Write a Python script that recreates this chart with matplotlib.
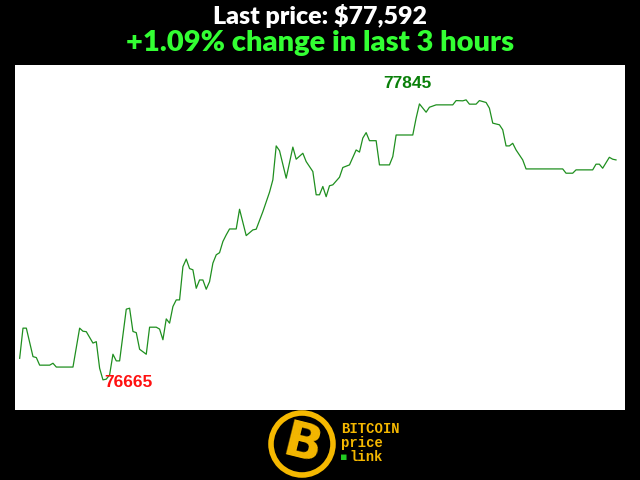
import matplotlib
matplotlib.use("Agg")
import matplotlib.pyplot as plt
from matplotlib.patches import Ellipse

# minute index within the last 3 hours and the price at each turning point
minutes = [0, 1, 2, 4, 5, 6, 9, 10, 11, 16, 18, 19, 20, 22, 23, 24, 25, 26, 27, 28,
           29, 30, 32, 33, 34, 35, 36, 38, 39, 41, 42, 43, 44, 45, 46, 47, 48, 49, 50, 51,
           52, 53, 54, 55, 56, 57, 58, 59, 60, 61, 62, 63, 65, 66, 68, 70, 71, 73, 75, 76,
           77, 78, 80, 82, 83, 85, 86, 88, 89, 90, 91, 92, 93, 94, 96, 97, 99, 101, 102, 103,
           104, 105, 107, 108, 111, 112, 113, 118, 119, 120, 122, 123, 125, 130, 131, 133, 134, 135, 137, 138,
           140, 141, 142, 144, 145, 146, 147, 148, 149, 151, 152, 163, 164, 166, 167, 172, 173, 174, 175, 177,
           178, 179]
prices = [76756, 76883, 76883, 76763, 76759, 76727, 76727, 76735, 76719, 76719, 76883, 76870, 76868, 76820, 76826, 76714, 76665, 76668, 76686, 76773,
          76745, 76745, 76963, 76967, 76869, 76864, 76794, 76773, 76887, 76887, 76879, 76834, 76922, 76904, 76974, 77002, 77002, 77142, 77174, 77134,
          77129, 77051, 77086, 77086, 77047, 77079, 77157, 77192, 77201, 77248, 77276, 77301, 77301, 77384, 77273, 77297, 77300, 77374, 77456, 77508,
          77651, 77631, 77515, 77646, 77595, 77620, 77585, 77543, 77445, 77445, 77480, 77437, 77483, 77487, 77519, 77560, 77571, 77634, 77625, 77684,
          77707, 77673, 77673, 77571, 77571, 77606, 77697, 77697, 77768, 77828, 77793, 77814, 77824, 77824, 77842, 77841, 77845, 77827, 77827, 77842,
          77834, 77810, 77747, 77740, 77719, 77651, 77651, 77662, 77634, 77592, 77554, 77554, 77536, 77536, 77550, 77550, 77574, 77574, 77557, 77603,
          77595, 77592]

last_price = "77,592"
change_pct = "+1.09%"
high_label = "77845"
low_label = "76665"

fig = plt.figure(figsize=(6.4, 4.8), dpi=100, facecolor="black")
ax = fig.add_axes([15/640, 70/480, 610/640, 345/480])
ax.set_facecolor("white")
ax.plot(minutes, prices, color="#1f8f1f", lw=0.9)
ax.set_xlim(-1.4, 181.7)
ax.set_ylim(76538, 77992)
ax.set_xticks([])
ax.set_yticks([])
for s in ax.spines.values():
    s.set_visible(False)

ax.text(109.1, 77912, high_label, color="#0a800a", fontsize=12.5, fontweight="bold",
        family="Liberation Sans", ha="left", va="center")
ax.text(25.3, 76652, low_label, color="#ff1010", fontsize=12.5, fontweight="bold",
        family="Liberation Sans", ha="left", va="center")

fig.text(0.5, 1 - 16/480, "Last price: $" + last_price, color="white", fontsize=18,
         fontweight="heavy", family="Lato", ha="center", va="center")
fig.text(0.5, 1 - 43/480, change_pct + " change in last 3 hours", color="#33ff33", fontsize=21,
         fontweight="heavy", family="Lato", ha="center", va="center")

# logo
gold = "#f5b800"
fig.add_artist(Ellipse((302/640, 1 - 444/480), 62/640, 62/480, transform=fig.transFigure,
                       facecolor="black", edgecolor=gold, lw=4))
fig.text(302/640, 1 - 445/480, "B", color=gold, fontsize=36, fontweight="heavy",
         family="DejaVu Sans", rotation=-14, ha="center", va="center")
for i, word in enumerate(["BITCOIN", "price", "link"]):
    fig.text(341/640 if i < 2 else 349/640, 1 - (429 + 14*i)/480, word, color=gold, fontsize=10,
             fontweight="bold", family="Liberation Mono", ha="left", va="center")
fig.text(344/640, 1 - 457/480, "\u25aa", color="#22cc22", fontsize=8, ha="center", va="center")

fig.savefig("out.png", dpi=100, facecolor="black")
